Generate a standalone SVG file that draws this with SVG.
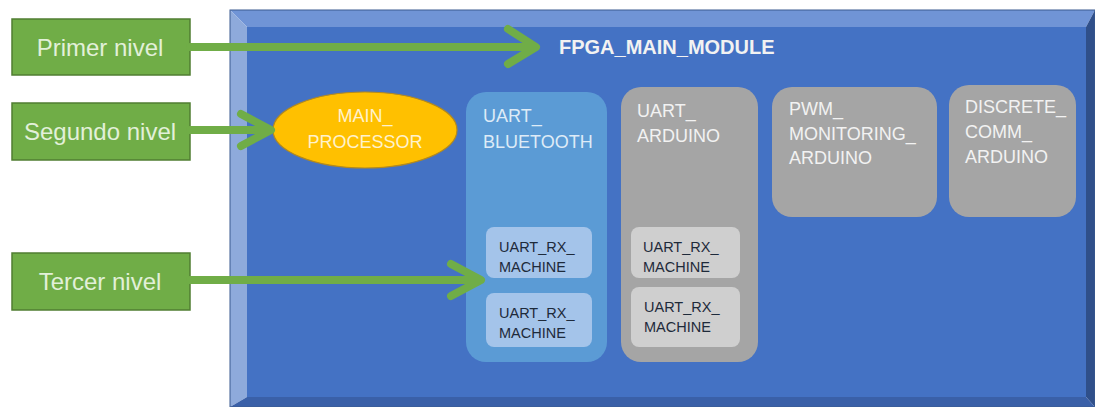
<svg xmlns="http://www.w3.org/2000/svg" width="1095" height="407" viewBox="0 0 1095 407">
<style>
.lvl{fill:#70ad47;stroke:#507e32;stroke-width:1.5}
.lvlt{font-family:"Liberation Sans",Arial,sans-serif;font-size:24px;fill:#e2f0d9;text-anchor:middle}
.conn{fill:none;stroke:#70ad47;stroke-width:8;stroke-linecap:round;stroke-linejoin:round}
.t{font-family:"Liberation Sans",Arial,sans-serif;font-size:18px;fill:#f2f2f2}
.blt{fill:#deebf7}
.inner{font-family:"Liberation Sans",Arial,sans-serif;font-size:14.5px;fill:#1e2a3a}
.gray{fill:#a5a5a5}
.gin{fill:#cfcfcf}
.bin{fill:#a4c4ea}
</style>
<rect width="1095" height="407" fill="#ffffff"/>
<g id="fpga_main_module">
  <polygon points="230,10 1095,10 1086,27 247,27" fill="#7094d6"/>
  <polygon points="230,10 247,27 247,397 230,407" fill="#8eaadb"/>
  <polygon points="1095,10 1095,407 1086,397 1086,27" fill="#2f4f8a"/>
  <polygon points="230,407 247,397 1086,397 1095,407" fill="#3a60a8"/>
  <rect x="247" y="27" width="839" height="370" fill="#4472c4"/>
  <rect x="230" y="10" width="865" height="397" fill="none" stroke="#3b5a8f" stroke-width="1"/>
  <text x="559" y="54" font-family="Liberation Sans,Arial,sans-serif" font-size="20" font-weight="bold" fill="#f2f2f2">FPGA_MAIN_MODULE</text>
</g>
<g id="primer_nivel">
  <rect class="lvl" x="12" y="19" width="178" height="56"/>
  <text class="lvlt" x="100" y="56">Primer nivel</text>
</g>
<g id="segundo_nivel">
  <rect class="lvl" x="12" y="103" width="178" height="57"/>
  <text class="lvlt" x="100" y="140">Segundo nivel</text>
</g>
<g id="tercer_nivel">
  <rect class="lvl" x="12" y="253" width="178" height="57"/>
  <text class="lvlt" x="100" y="290">Tercer nivel</text>
</g>
<g id="main_processor">
  <ellipse cx="365" cy="130" rx="92" ry="38" fill="#ffc000" stroke="#b58a1b" stroke-width="1.2"/>
  <text x="365" y="122" font-family="Liberation Sans,Arial,sans-serif" font-size="18" fill="#fff2cc" text-anchor="middle">MAIN_</text>
  <text x="365" y="148" font-family="Liberation Sans,Arial,sans-serif" font-size="18" fill="#fff2cc" text-anchor="middle">PROCESSOR</text>
</g>
<g id="uart_bluetooth">
  <rect x="466" y="92" width="141" height="270" rx="20" fill="#5b9bd5"/>
  <text class="t blt" x="483" y="122">UART_</text>
  <text class="t blt" x="483" y="148">BLUETOOTH</text>
</g>
<g id="uart_bluetooth_rx1">
  <rect class="bin" x="486" y="227" width="106" height="51" rx="8"/>
  <text class="inner" x="499" y="252">UART_RX_</text>
  <text class="inner" x="499" y="272">MACHINE</text>
</g>
<g id="uart_bluetooth_rx2">
  <rect class="bin" x="486" y="293" width="106" height="54" rx="8"/>
  <text class="inner" x="499" y="318">UART_RX_</text>
  <text class="inner" x="499" y="338">MACHINE</text>
</g>
<g id="uart_arduino">
  <rect class="gray" x="621" y="87" width="137" height="275" rx="20"/>
  <text class="t" x="637" y="117">UART_</text>
  <text class="t" x="637" y="142">ARDUINO</text>
</g>
<g id="uart_arduino_rx1">
  <rect class="gin" x="631" y="227" width="109" height="51" rx="8"/>
  <text class="inner" x="643" y="252">UART_RX_</text>
  <text class="inner" x="643" y="272">MACHINE</text>
</g>
<g id="uart_arduino_rx2">
  <rect class="gin" x="631" y="287" width="109" height="60" rx="8"/>
  <text class="inner" x="644" y="312">UART_RX_</text>
  <text class="inner" x="644" y="332">MACHINE</text>
</g>
<g id="pwm_monitoring_arduino">
  <rect class="gray" x="772" y="87" width="165" height="130" rx="20"/>
  <text class="t" x="789" y="115">PWM_</text>
  <text class="t" x="789" y="140">MONITORING_</text>
  <text class="t" x="789" y="164">ARDUINO</text>
</g>
<g id="discrete_comm_arduino">
  <rect class="gray" x="949" y="85" width="127" height="132" rx="20"/>
  <text class="t" x="965" y="113">DISCRETE_</text>
  <text class="t" x="965" y="138">COMM_</text>
  <text class="t" x="965" y="163">ARDUINO</text>
</g>
<g id="connectors">
  <path class="conn" d="M190,47 H535 M508,29 L536,47 L508,64"/>
  <path class="conn" d="M190,130 H270 M241,114 L271,130 L241,146"/>
  <path class="conn" d="M190,280 H480 M451,264 L481,280 L451,296"/>
</g>
</svg>
